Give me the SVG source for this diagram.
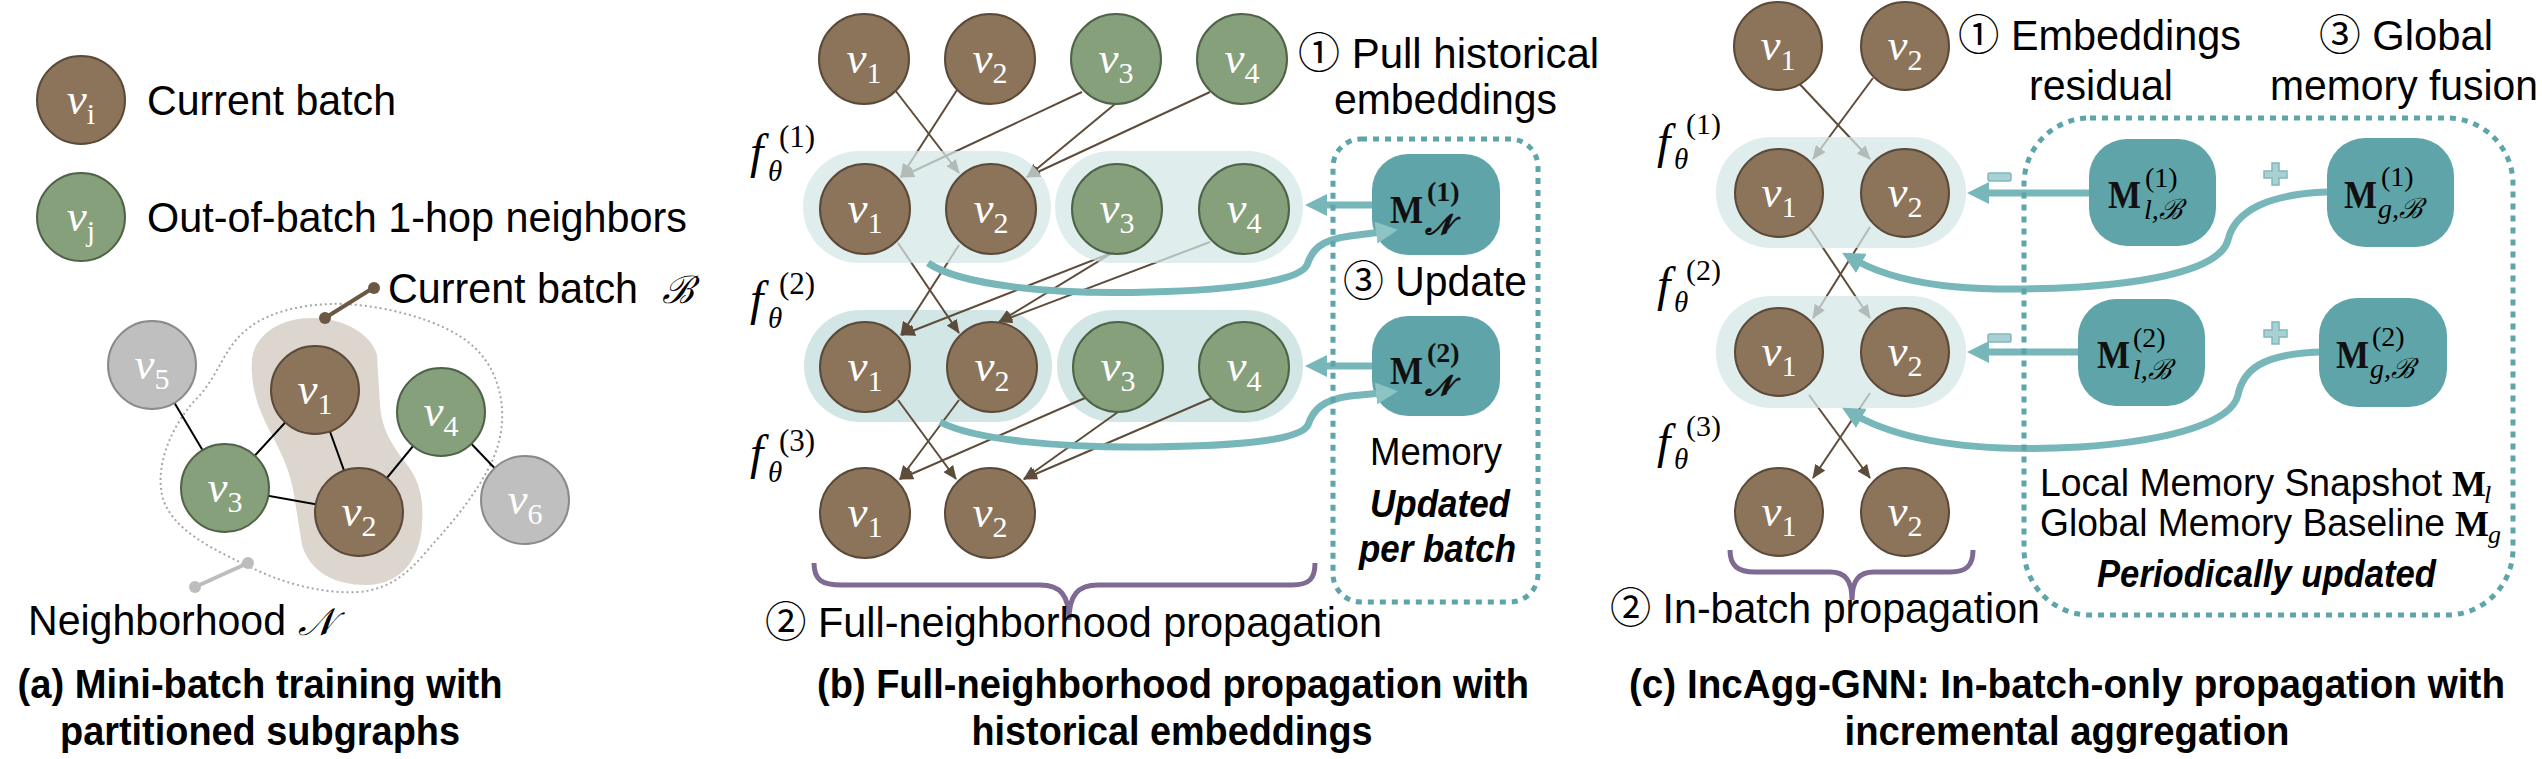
<svg xmlns="http://www.w3.org/2000/svg" width="2542" height="759" viewBox="0 0 2542 759">
<style>
.bg{fill:#ffffff}
.nb{fill:#8c745a;stroke:#5b4a39;stroke-width:2}
.ng{fill:#86a07b;stroke:#4f6348;stroke-width:2}
.ny{fill:#bfbfbf;stroke:#8a8a8a;stroke-width:2}
.vt{font-family:"Liberation Serif","DejaVu Serif",serif;font-style:italic;font-size:45px;fill:#ffffff}
.vs{font-style:normal;font-size:30px}
.lbl{font-family:"Liberation Sans","Noto Sans CJK SC",sans-serif;font-size:42px;fill:#000}
.lbs{font-family:"Liberation Sans","Noto Sans CJK SC",sans-serif;font-size:38px;fill:#000}
.bi{font-family:"Liberation Sans",sans-serif;font-size:39px;font-weight:bold;font-style:italic;fill:#000}
.cap{font-family:"Liberation Sans",sans-serif;font-size:40px;font-weight:bold;fill:#000}
.math{font-family:"Liberation Serif","DejaVu Serif",serif;font-style:italic;fill:#000}
.mr{font-family:"Liberation Serif","DejaVu Serif",serif;fill:#000}
.mb{font-family:"Liberation Serif","DejaVu Serif",serif;font-weight:bold;fill:#111}
.edge{stroke:#000;stroke-width:2;fill:none}
.arr{stroke:#5e4c3b;stroke-width:2;fill:none;marker-end:url(#ah)}
.pill{fill:#d3e6e6}
.pillo{fill:#d3e6e6;opacity:0.72}
.tl{stroke:#77b7b9;stroke-width:7;fill:none;marker-end:url(#th)}
.tl2{stroke:#77b7b9;stroke-width:7;fill:none;marker-end:url(#th2)}
.mbox{fill:#5ea4a8}
.dash{fill:none;stroke:#5ea5aa;stroke-width:5;stroke-dasharray:6 6}
.brace{fill:none;stroke:#7e6a93;stroke-width:5}
.minus{fill:#a9d1d3;stroke:#7fb9bb;stroke-width:1.5}
</style>
<defs>
<marker id="ah" viewBox="0 0 14 12" refX="13" refY="6" markerWidth="14" markerHeight="12" markerUnits="userSpaceOnUse" orient="auto"><path d="M0,0 L14,6 L0,12 z" fill="#5e4c3b"/></marker>
<marker id="th" viewBox="0 0 22 22" refX="5" refY="11" markerWidth="22" markerHeight="22" markerUnits="userSpaceOnUse" orient="auto"><path d="M0,0 L22,11 L0,22 z" fill="#77b7b9"/></marker>
<marker id="th2" viewBox="0 0 22 22" refX="5" refY="11" markerWidth="22" markerHeight="22" markerUnits="userSpaceOnUse" orient="auto"><path d="M0,0 L22,11 L0,22 z" fill="#8cc4c6"/></marker>
</defs>
<rect class="bg" x="0" y="0" width="2542" height="759"/>

<!-- ============ Panel (a) ============ -->
<g id="legend">
  <g id="leg-vi"><circle class="nb" cx="81" cy="100" r="44"/><text class="vt" x="81" y="114" text-anchor="middle">v<tspan class="vs" font-style="italic" dy="10">i</tspan></text></g>
  <text class="lbl" x="147" y="115" textLength="249" lengthAdjust="spacingAndGlyphs">Current batch</text>
  <g id="leg-vj"><circle class="ng" cx="81" cy="217" r="44"/><text class="vt" x="81" y="231" text-anchor="middle">v<tspan class="vs" font-style="italic" dy="10">j</tspan></text></g>
  <text class="lbl" x="147" y="232" textLength="540" lengthAdjust="spacingAndGlyphs">Out-of-batch 1-hop neighbors</text>
</g>
<g id="a-regions">
  <path d="M 330,304 C 370,302 445,318 475,348 C 500,372 508,410 498,445 C 488,480 455,520 432,545 C 415,565 395,590 357,592 C 320,594 280,582 250,567 C 215,550 170,530 162,495 C 155,460 175,420 200,395 C 220,372 225,345 250,327 C 270,312 300,305 330,304 Z" fill="none" stroke="#a6a6a6" stroke-width="2" stroke-dasharray="2 3"/>
  <path d="M 312,318 C 345,318 372,335 377,355 L 380,405 C 382,430 392,445 405,462 C 420,480 424,500 422,525 C 420,560 400,585 366,585 C 335,585 310,572 302,545 L 294,495 C 290,470 282,455 272,435 C 258,410 250,385 252,360 C 254,335 280,318 312,318 Z" fill="#ddd6ce"/>
</g>
<g id="a-connectors">
  <line class="edge" x1="152" y1="365" x2="225" y2="488"/>
  <line class="edge" x1="225" y1="488" x2="315" y2="390"/>
  <line class="edge" x1="315" y1="390" x2="359" y2="512" stroke="#5b4a39"/>
  <line class="edge" x1="225" y1="488" x2="359" y2="512"/>
  <line class="edge" x1="359" y1="512" x2="441" y2="412"/>
  <line class="edge" x1="441" y1="412" x2="525" y2="500"/>
  <line x1="373" y1="288" x2="325" y2="318" stroke="#6b5844" stroke-width="4"/>
  <circle cx="374" cy="288" r="6" fill="#6b5844"/><circle cx="325" cy="318" r="6" fill="#6b5844"/>
  <line x1="248" y1="563" x2="195" y2="587" stroke="#bdbdbd" stroke-width="4"/>
  <circle cx="248" cy="563" r="6" fill="#bdbdbd"/><circle cx="195" cy="587" r="6" fill="#bdbdbd"/>
</g>
<g id="a-v5"><circle class="ny" cx="152" cy="365" r="44"/><text class="vt" x="152" y="379" text-anchor="middle">v<tspan class="vs" dy="10">5</tspan></text></g>
<g id="a-v1"><circle class="nb" cx="315" cy="390" r="44"/><text class="vt" x="315" y="404" text-anchor="middle">v<tspan class="vs" dy="10">1</tspan></text></g>
<g id="a-v3"><circle class="ng" cx="225" cy="488" r="44"/><text class="vt" x="225" y="502" text-anchor="middle">v<tspan class="vs" dy="10">3</tspan></text></g>
<g id="a-v2"><circle class="nb" cx="359" cy="512" r="44"/><text class="vt" x="359" y="526" text-anchor="middle">v<tspan class="vs" dy="10">2</tspan></text></g>
<g id="a-v4"><circle class="ng" cx="441" cy="412" r="44"/><text class="vt" x="441" y="426" text-anchor="middle">v<tspan class="vs" dy="10">4</tspan></text></g>
<g id="a-v6"><circle class="ny" cx="525" cy="500" r="44"/><text class="vt" x="525" y="514" text-anchor="middle">v<tspan class="vs" dy="10">6</tspan></text></g>
<text class="lbl" x="388" y="303"><tspan textLength="250" lengthAdjust="spacingAndGlyphs">Current batch</tspan><tspan x="662" font-family="DejaVu Serif,serif" font-style="italic" font-size="38">ℬ</tspan></text>
<text class="lbl" x="28" y="635"><tspan textLength="258" lengthAdjust="spacingAndGlyphs">Neighborhood</tspan><tspan x="298" font-family="DejaVu Serif,serif" font-style="italic" font-size="38">𝒩</tspan></text>
<text class="cap" x="260" y="698" text-anchor="middle" textLength="485" lengthAdjust="spacingAndGlyphs">(a) Mini-batch training with</text>
<text class="cap" x="260" y="745" text-anchor="middle" textLength="400" lengthAdjust="spacingAndGlyphs">partitioned subgraphs</text>

<!-- ============ Panel (b) ============ -->
<g id="b-pills-under">
  <rect class="pill" x="804" y="310" width="248" height="112" rx="56"/>
  <rect class="pill" x="1057" y="310" width="246" height="112" rx="56"/>
</g>
<g id="b-connectors">
  <line class="arr" x1="895" y1="90" x2="959" y2="173"/>
  <line class="arr" x1="957" y1="90" x2="901" y2="177"/>
  <line class="arr" x1="1082" y1="92" x2="901" y2="177"/>
  <line class="arr" x1="1115" y1="104" x2="1027" y2="177"/>
  <line class="arr" x1="1210" y1="92" x2="1027" y2="177"/>
  <line class="arr" x1="898" y1="243" x2="959" y2="333"/>
  <line class="arr" x1="959" y1="245" x2="901" y2="335"/>
  <line class="arr" x1="1114" y1="252" x2="902" y2="335"/>
  <line class="arr" x1="1112" y1="253" x2="999" y2="322"/>
  <line class="arr" x1="1210" y1="242" x2="999" y2="322"/>
  <line class="arr" x1="898" y1="400" x2="956" y2="479"/>
  <line class="arr" x1="959" y1="400" x2="900" y2="479"/>
  <line class="arr" x1="1085" y1="398" x2="900" y2="479"/>
  <line class="arr" x1="1118" y1="412" x2="1024" y2="479"/>
  <line class="arr" x1="1212" y1="398" x2="1024" y2="479"/>
</g>
<g id="b-pills-over">
  <rect class="pillo" x="803" y="151" width="248" height="112" rx="56"/>
  <rect class="pillo" x="1055" y="151" width="248" height="112" rx="56"/>
</g>
<g id="b-r1-v1"><circle class="nb" cx="864" cy="59" r="45"/><text class="vt" x="864" y="73" text-anchor="middle">v<tspan class="vs" dy="10">1</tspan></text></g>
<g id="b-r1-v2"><circle class="nb" cx="990" cy="59" r="45"/><text class="vt" x="990" y="73" text-anchor="middle">v<tspan class="vs" dy="10">2</tspan></text></g>
<g id="b-r1-v3"><circle class="ng" cx="1116" cy="59" r="45"/><text class="vt" x="1116" y="73" text-anchor="middle">v<tspan class="vs" dy="10">3</tspan></text></g>
<g id="b-r1-v4"><circle class="ng" cx="1242" cy="59" r="45"/><text class="vt" x="1242" y="73" text-anchor="middle">v<tspan class="vs" dy="10">4</tspan></text></g>
<g id="b-r2-v1"><circle class="nb" cx="865" cy="209" r="45"/><text class="vt" x="865" y="223" text-anchor="middle">v<tspan class="vs" dy="10">1</tspan></text></g>
<g id="b-r2-v2"><circle class="nb" cx="991" cy="209" r="45"/><text class="vt" x="991" y="223" text-anchor="middle">v<tspan class="vs" dy="10">2</tspan></text></g>
<g id="b-r2-v3"><circle class="ng" cx="1117" cy="209" r="45"/><text class="vt" x="1117" y="223" text-anchor="middle">v<tspan class="vs" dy="10">3</tspan></text></g>
<g id="b-r2-v4"><circle class="ng" cx="1244" cy="209" r="45"/><text class="vt" x="1244" y="223" text-anchor="middle">v<tspan class="vs" dy="10">4</tspan></text></g>
<g id="b-r3-v1"><circle class="nb" cx="865" cy="367" r="45"/><text class="vt" x="865" y="381" text-anchor="middle">v<tspan class="vs" dy="10">1</tspan></text></g>
<g id="b-r3-v2"><circle class="nb" cx="992" cy="367" r="45"/><text class="vt" x="992" y="381" text-anchor="middle">v<tspan class="vs" dy="10">2</tspan></text></g>
<g id="b-r3-v3"><circle class="ng" cx="1118" cy="367" r="45"/><text class="vt" x="1118" y="381" text-anchor="middle">v<tspan class="vs" dy="10">3</tspan></text></g>
<g id="b-r3-v4"><circle class="ng" cx="1244" cy="367" r="45"/><text class="vt" x="1244" y="381" text-anchor="middle">v<tspan class="vs" dy="10">4</tspan></text></g>
<g id="b-r4-v1"><circle class="nb" cx="865" cy="513" r="45"/><text class="vt" x="865" y="527" text-anchor="middle">v<tspan class="vs" dy="10">1</tspan></text></g>
<g id="b-r4-v2"><circle class="nb" cx="990" cy="513" r="45"/><text class="vt" x="990" y="527" text-anchor="middle">v<tspan class="vs" dy="10">2</tspan></text></g>

<g id="b-f-labels">
  <text class="math" x="750" y="168" font-size="48">f</text><text class="math" x="768" y="181" font-size="29">θ</text><text class="mr" x="779" y="147" font-size="31">(1)</text>
  <text class="math" x="750" y="315" font-size="48">f</text><text class="math" x="768" y="328" font-size="29">θ</text><text class="mr" x="779" y="294" font-size="31">(2)</text>
  <text class="math" x="750" y="469" font-size="48">f</text><text class="math" x="768" y="482" font-size="29">θ</text><text class="mr" x="779" y="451" font-size="31">(3)</text>
</g>
<g id="b-mem1"><rect class="mbox" x="1372" y="154" width="128" height="101" rx="36"/>
  <text class="mb" x="1390" y="223" font-size="40" textLength="33" lengthAdjust="spacingAndGlyphs">M</text>
  <text class="mb" x="1427" y="201" font-size="28">(1)</text>
  <text class="mb" x="1425" y="234" font-size="28" font-style="italic">𝓝</text></g>
<g id="b-mem2"><rect class="mbox" x="1372" y="316" width="128" height="100" rx="36"/>
  <text class="mb" x="1390" y="384" font-size="40" textLength="33" lengthAdjust="spacingAndGlyphs">M</text>
  <text class="mb" x="1427" y="362" font-size="28">(2)</text>
  <text class="mb" x="1425" y="395" font-size="28" font-style="italic">𝓝</text></g>
<g id="b-teal-connectors">
  <path class="tl" d="M 1372,205 L 1322,205"/>
  <path class="tl" d="M 1372,366 L 1322,366"/>
  <path class="tl2" d="M 928,263 C 960,285 1050,295 1150,292 C 1240,290 1300,280 1307,265 C 1312,250 1320,240 1350,236 L 1381,232"/>
  <path class="tl2" d="M 940,422 C 975,440 1060,448 1150,447 C 1240,446 1300,440 1308,425 C 1313,410 1322,400 1350,396 L 1381,393"/>
</g>
<rect id="b-memory-box" class="dash" x="1333" y="139" width="205" height="463" rx="28"/>
<text class="lbl" x="1298" y="68">① Pull historical</text>
<text class="lbl" x="1334" y="114" textLength="223" lengthAdjust="spacingAndGlyphs">embeddings</text>
<text class="lbl" x="1343" y="296" textLength="184" lengthAdjust="spacingAndGlyphs">③ Update</text>
<text class="lbs" x="1370" y="465" textLength="132" lengthAdjust="spacingAndGlyphs">Memory</text>
<text class="bi" x="1370" y="517" textLength="140" lengthAdjust="spacingAndGlyphs">Updated</text>
<text class="bi" x="1359" y="562" textLength="157" lengthAdjust="spacingAndGlyphs">per batch</text>
<path class="brace" d="M 814,563 C 814,580 822,585 842,585 L 1040,585 C 1060,585 1069,595 1069,620 C 1069,595 1078,585 1098,585 L 1292,585 C 1310,585 1315,578 1315,563"/>
<text class="lbl" x="765" y="637" textLength="617" lengthAdjust="spacingAndGlyphs">② Full-neighborhood propagation</text>
<text class="cap" x="1173" y="698" text-anchor="middle" textLength="712" lengthAdjust="spacingAndGlyphs">(b) Full-neighborhood propagation with</text>
<text class="cap" x="1172" y="745" text-anchor="middle" textLength="401" lengthAdjust="spacingAndGlyphs">historical embeddings</text>

<!-- ============ Panel (c) ============ -->
<g id="c-connectors">
  <line class="arr" x1="1794" y1="78" x2="1870" y2="159"/>
  <line class="arr" x1="1873" y1="78" x2="1813" y2="159"/>
  <line class="arr" x1="1809" y1="227" x2="1870" y2="318"/>
  <line class="arr" x1="1870" y1="227" x2="1813" y2="318"/>
  <line class="arr" x1="1809" y1="395" x2="1870" y2="478"/>
  <line class="arr" x1="1870" y1="393" x2="1813" y2="478"/>
</g>
<g id="c-pills">
  <rect class="pillo" x="1716" y="137" width="250" height="111" rx="55"/>
  <rect class="pillo" x="1716" y="296" width="250" height="112" rx="55"/>
</g>
<g id="c-r1-v1"><circle class="nb" cx="1778" cy="46" r="44"/><text class="vt" x="1778" y="60" text-anchor="middle">v<tspan class="vs" dy="10">1</tspan></text></g>
<g id="c-r1-v2"><circle class="nb" cx="1905" cy="46" r="44"/><text class="vt" x="1905" y="60" text-anchor="middle">v<tspan class="vs" dy="10">2</tspan></text></g>
<g id="c-r2-v1"><circle class="nb" cx="1779" cy="193" r="44"/><text class="vt" x="1779" y="207" text-anchor="middle">v<tspan class="vs" dy="10">1</tspan></text></g>
<g id="c-r2-v2"><circle class="nb" cx="1905" cy="193" r="44"/><text class="vt" x="1905" y="207" text-anchor="middle">v<tspan class="vs" dy="10">2</tspan></text></g>
<g id="c-r3-v1"><circle class="nb" cx="1779" cy="352" r="44"/><text class="vt" x="1779" y="366" text-anchor="middle">v<tspan class="vs" dy="10">1</tspan></text></g>
<g id="c-r3-v2"><circle class="nb" cx="1905" cy="352" r="44"/><text class="vt" x="1905" y="366" text-anchor="middle">v<tspan class="vs" dy="10">2</tspan></text></g>
<g id="c-r4-v1"><circle class="nb" cx="1779" cy="512" r="44"/><text class="vt" x="1779" y="526" text-anchor="middle">v<tspan class="vs" dy="10">1</tspan></text></g>
<g id="c-r4-v2"><circle class="nb" cx="1905" cy="512" r="44"/><text class="vt" x="1905" y="526" text-anchor="middle">v<tspan class="vs" dy="10">2</tspan></text></g>
<g id="c-f-labels">
  <text class="math" x="1657" y="158" font-size="48">f</text><text class="math" x="1674" y="169" font-size="29">θ</text><text class="mr" x="1686" y="134" font-size="30">(1)</text>
  <text class="math" x="1657" y="301" font-size="48">f</text><text class="math" x="1674" y="312" font-size="29">θ</text><text class="mr" x="1686" y="280" font-size="30">(2)</text>
  <text class="math" x="1657" y="458" font-size="48">f</text><text class="math" x="1674" y="469" font-size="29">θ</text><text class="mr" x="1686" y="436" font-size="30">(3)</text>
</g>
<g id="c-ml1"><rect class="mbox" x="2089" y="139" width="127" height="107" rx="38"/>
  <text class="mb" x="2108" y="208" font-size="40" textLength="33" lengthAdjust="spacingAndGlyphs">M</text>
  <text class="mr" x="2145" y="187" font-size="28">(1)</text>
  <text class="math" x="2144" y="219" font-size="28">l,<tspan font-family="DejaVu Serif,serif">ℬ</tspan></text></g>
<g id="c-mg1"><rect class="mbox" x="2327" y="138" width="127" height="109" rx="38"/>
  <text class="mb" x="2344" y="208" font-size="40" textLength="33" lengthAdjust="spacingAndGlyphs">M</text>
  <text class="mr" x="2381" y="186" font-size="28">(1)</text>
  <text class="math" x="2378" y="218" font-size="28">g,<tspan font-family="DejaVu Serif,serif">ℬ</tspan></text></g>
<g id="c-ml2"><rect class="mbox" x="2078" y="299" width="127" height="107" rx="38"/>
  <text class="mb" x="2097" y="368" font-size="40" textLength="33" lengthAdjust="spacingAndGlyphs">M</text>
  <text class="mr" x="2133" y="347" font-size="28">(2)</text>
  <text class="math" x="2133" y="379" font-size="28">l,<tspan font-family="DejaVu Serif,serif">ℬ</tspan></text></g>
<g id="c-mg2"><rect class="mbox" x="2319" y="298" width="128" height="109" rx="38"/>
  <text class="mb" x="2336" y="368" font-size="40" textLength="33" lengthAdjust="spacingAndGlyphs">M</text>
  <text class="mr" x="2372" y="346" font-size="28">(2)</text>
  <text class="math" x="2370" y="378" font-size="28">g,<tspan font-family="DejaVu Serif,serif">ℬ</tspan></text></g>
<g id="c-teal-connectors">
  <path class="tl" d="M 2089,193 L 1984,193"/>
  <path class="tl" d="M 2078,352 L 1984,352"/>
  <path class="tl" d="M 2327,192 C 2270,194 2235,210 2228,240 C 2222,262 2180,280 2080,287 C 1990,292 1910,290 1857,261"/>
  <path class="tl" d="M 2319,352 C 2262,354 2243,370 2238,395 C 2232,420 2180,440 2080,447 C 1990,452 1910,445 1857,416"/>
</g>
<g id="c-ops">
  <rect class="minus" x="1988" y="173" width="23" height="8" rx="1.5"/>
  <rect class="minus" x="1988" y="334" width="23" height="8" rx="1.5"/>
  <path class="minus" d="M 2272,163 L 2279,163 L 2279,171 L 2287,171 L 2287,178 L 2279,178 L 2279,185 L 2272,185 L 2272,178 L 2264,178 L 2264,171 L 2272,171 Z"/>
  <path class="minus" d="M 2272,322 L 2279,322 L 2279,330 L 2287,330 L 2287,337 L 2279,337 L 2279,344 L 2272,344 L 2272,337 L 2264,337 L 2264,330 L 2272,330 Z"/>
</g>
<rect id="c-memory-box" class="dash" x="2024" y="118" width="489" height="497" rx="66"/>
<text class="lbl" x="1958" y="50" textLength="283" lengthAdjust="spacingAndGlyphs">① Embeddings</text>
<text class="lbl" x="2029" y="100" textLength="144" lengthAdjust="spacingAndGlyphs">residual</text>
<text class="lbl" x="2319" y="50" textLength="174" lengthAdjust="spacingAndGlyphs">③ Global</text>
<text class="lbl" x="2270" y="100" textLength="268" lengthAdjust="spacingAndGlyphs">memory fusion</text>
<text class="lbs" x="2040" y="496"><tspan textLength="402" lengthAdjust="spacingAndGlyphs">Local Memory Snapshot</tspan><tspan x="2452" font-family="Liberation Serif,serif" font-weight="bold" font-size="36">M</tspan><tspan x="2484" dy="7" font-family="Liberation Serif,serif" font-style="italic" font-size="26">l</tspan></text>
<text class="lbs" x="2040" y="536"><tspan textLength="405" lengthAdjust="spacingAndGlyphs">Global Memory Baseline</tspan><tspan x="2455" font-family="Liberation Serif,serif" font-weight="bold" font-size="36">M</tspan><tspan x="2488" dy="7" font-family="Liberation Serif,serif" font-style="italic" font-size="26">g</tspan></text>
<text class="bi" x="2097" y="587" textLength="339" lengthAdjust="spacingAndGlyphs">Periodically updated</text>
<path class="brace" d="M 1730,550 C 1730,566 1738,572 1755,572 L 1830,572 C 1845,572 1852,580 1852,600 C 1852,580 1859,572 1874,572 L 1950,572 C 1966,572 1973,566 1973,550"/>
<text class="lbl" x="1610" y="623" textLength="430" lengthAdjust="spacingAndGlyphs">② In-batch propagation</text>
<text class="cap" x="2067" y="698" text-anchor="middle" textLength="876" lengthAdjust="spacingAndGlyphs">(c) IncAgg-GNN: In-batch-only propagation with</text>
<text class="cap" x="2067" y="745" text-anchor="middle" textLength="445" lengthAdjust="spacingAndGlyphs">incremental aggregation</text>
</svg>
